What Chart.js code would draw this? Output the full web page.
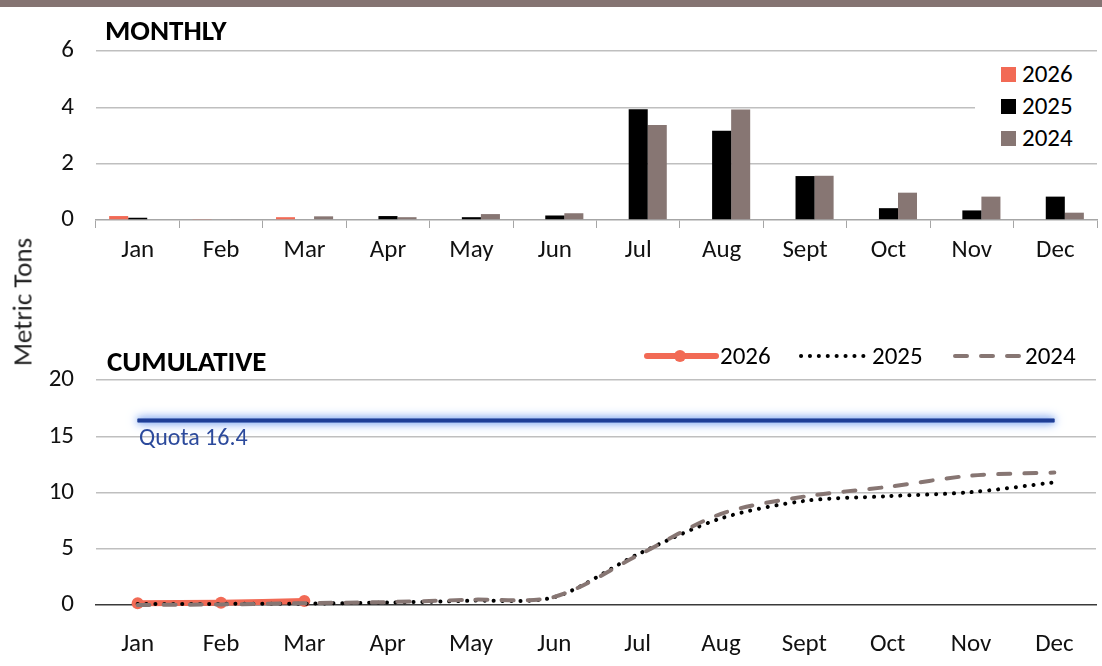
<!DOCTYPE html>
<html>
<head>
<meta charset="utf-8">
<script src="https://cdn.jsdelivr.net/npm/chart.js@4.4.1/dist/chart.umd.min.js"></script>
<style>
  html, body { margin:0; padding:0; background:#fff; }
  body { width:1102px; height:666px; position:relative; overflow:hidden; font-family: Carlito, Lato, "Open Sans", sans-serif; color:#111; }
  #topbar { position:absolute; left:0; top:0; width:1102px; height:7px; background:#857472; }
  .wrap { position:absolute; left:0; width:1102px; }
  .title { position:absolute; font-weight:bold; font-size:29px; color:#000; line-height:1; }
  #ylabel { position:absolute; left:22px; top:302px; transform:translate(-50%,-50%) rotate(-90deg); font-size:27px; color:#222; white-space:nowrap; }
  #legTop { position:absolute; left:975px; top:56px; width:125px; height:100px; background:#fff; }
  .li { position:absolute; left:26px; font-size:25px; color:#000; line-height:1; }
  .sw { display:inline-block; width:15px; height:15px; margin-right:6px; vertical-align:0px; }
  #legBot { position:absolute; top:343px; left:640px; font-size:25px; color:#000; white-space:nowrap; line-height:1; }
  #legBot span, #legBot svg { position:absolute; top:0; }
  #quota { position:absolute; left:139px; top:425px; font-size:24px; color:#2c4a9c; line-height:1; }
</style>
</head>
<body>
<div id="topbar"></div>
<div class="wrap" style="top:0;height:280px;"><canvas id="c1" width="1102" height="280"></canvas></div>
<div class="wrap" style="top:330px;height:336px;"><canvas id="c2" width="1102" height="336"></canvas></div>
<div class="title" style="left:105px;top:16px;">MONTHLY</div>
<div class="title" style="left:107px;top:347px;">CUMULATIVE</div>
<div id="ylabel">Metric Tons</div>
<div id="legTop">
  <div class="li" style="top:5px;"><span class="sw" style="background:#f26a55"></span>2026</div>
  <div class="li" style="top:37px;"><span class="sw" style="background:#000"></span>2025</div>
  <div class="li" style="top:69px;"><span class="sw" style="background:#877673"></span>2024</div>
</div>
<div id="legBot">
  <svg style="left:0;top:0" width="80" height="26"><line x1="7" y1="13" x2="76" y2="13" stroke="#f26a55" stroke-width="6" stroke-linecap="round"/><circle cx="40" cy="13" r="6" fill="#f26a55"/></svg>
  <span style="left:80px;">2026</span>
  <svg style="left:158px;top:0" width="72" height="26"><line x1="3" y1="13" x2="70" y2="13" stroke="#000" stroke-width="4" stroke-linecap="round" stroke-dasharray="0.1 8.8"/></svg>
  <span style="left:232px;">2025</span>
  <svg style="left:312px;top:0" width="72" height="26"><line x1="3" y1="13" x2="70" y2="13" stroke="#877673" stroke-width="4" stroke-linecap="round" stroke-dasharray="12 14"/></svg>
  <span style="left:385px;">2024</span>
</div>
<div id="quota">Quota 16.4</div>
<script>
const months = ["Jan","Feb","Mar","Apr","May","Jun","Jul","Aug","Sept","Oct","Nov","Dec"];
const monthly2026 = [0.14, 0.02, 0.10, null, null, null, null, null, null, null, null, null];
const monthly2025 = [0.08, 0, 0, 0.14, 0.10, 0.16, 3.93, 3.17, 1.56, 0.42, 0.34, 0.83];
const monthly2024 = [0, 0.03, 0.13, 0.10, 0.21, 0.24, 3.37, 3.92, 1.57, 0.97, 0.83, 0.26];
const cum2026 = [0.15, 0.20, 0.35, null, null, null, null, null, null, null, null, null];
const cum2025 = [0.08, 0.10, 0.12, 0.22, 0.38, 0.70, 4.5, 7.7, 9.25, 9.67, 10.03, 10.9];
const cum2024 = [0.0, 0.05, 0.16, 0.26, 0.47, 0.72, 4.4, 8.1, 9.64, 10.5, 11.5, 11.77];
const quota = 16.4;
const monthlyTicks = [0, 2, 4, 6];
const cumTicks = [0, 5, 10, 15, 20];

const FONT = "Carlito, Lato, 'Open Sans', sans-serif";
const C26 = "#f26a55", C25 = "#000000", C24 = "#877673";

Chart.defaults.font.family = FONT;
Chart.defaults.color = "#111";

new Chart(document.getElementById("c1"), {
  type: "bar",
  data: {
    labels: months,
    datasets: [
      { label: "2026", data: monthly2026, backgroundColor: C26 },
      { label: "2025", data: monthly2025, backgroundColor: C25 },
      { label: "2024", data: monthly2024, backgroundColor: C24 }
    ]
  },
  options: {
    responsive: false, animation: false,
    layout: { padding: { top: 51, right: 5, left: 0, bottom: 0 } },
    datasets: { bar: { barPercentage: 1, categoryPercentage: 0.685 } },
    plugins: { legend: { display: false }, tooltip: { enabled: false } },
    scales: {
      x: {
        grid: { display: true, drawOnChartArea: false, drawTicks: true, tickLength: 8, color: "#a6a6a6", offset: true },
        border: { display: true, color: "#a6a6a6", width: 1.5 },
        ticks: { font: { size: 25 }, color: "#111", padding: 8 },
        afterFit: (a) => { a.height = 60; }
      },
      y: {
        min: 0, max: 6,
        afterBuildTicks: (a) => { a.ticks = monthlyTicks.map(v => ({ value: v })); },
        grid: { color: (ctx) => ctx.tick && ctx.tick.value === 0 ? "rgba(0,0,0,0)" : "#bfbfbf", lineWidth: 1.5, drawTicks: false },
        border: { display: false },
        ticks: { font: { size: 25 }, color: "#111", padding: 22 },
        afterFit: (a) => { a.width = 96; }
      }
    }
  }
});

const glowPlugin = {
  id: "glow",
  beforeDatasetDraw(chart, args) {
    const ds = chart.data.datasets[args.index];
    if (ds.glow) {
      const ctx = chart.ctx;
      ctx.save();
      ctx.shadowColor = "rgba(90,140,235,1)";
      ctx.shadowBlur = 12;
      args.meta.dataset.draw(ctx, chart.chartArea);
      ctx.shadowBlur = 7;
      args.meta.dataset.draw(ctx, chart.chartArea);
      ctx.restore();
    }
  }
};

new Chart(document.getElementById("c2"), {
  type: "line",
  data: {
    labels: months,
    datasets: [
      { label: "Quota", data: months.map(() => quota), borderColor: "#1f3e96", borderWidth: 3.5, pointRadius: 0, glow: true, order: 4 },
      { label: "2026", data: cum2026, borderColor: C26, backgroundColor: C26, borderWidth: 6, pointRadius: 6, pointBorderWidth: 0, tension: 0.3, order: 3, clip: false },
      { label: "2025", data: cum2025, borderColor: C25, borderWidth: 4, borderDash: [0.1, 8.8], borderCapStyle: "round", pointRadius: 0, tension: 0.3, order: 2, clip: false },
      { label: "2024", data: cum2024, borderColor: C24, borderWidth: 4, borderDash: [12, 14], borderCapStyle: "round", pointRadius: 0, tension: 0.3, order: 1, clip: false }
    ]
  },
  plugins: [glowPlugin],
  options: {
    responsive: false, animation: false,
    layout: { padding: { top: 50, right: 5, left: 0, bottom: 0 } },
    plugins: { legend: { display: false }, tooltip: { enabled: false } },
    scales: {
      x: {
        offset: true,
        grid: { display: false },
        border: { display: true, color: "#3a3a3a", width: 1.5 },
        ticks: { font: { size: 25 }, color: "#111", padding: 17 },
        afterFit: (a) => { a.height = 61; }
      },
      y: {
        min: 0, max: 20,
        afterBuildTicks: (a) => { a.ticks = cumTicks.map(v => ({ value: v })); },
        grid: { color: (ctx) => ctx.tick && ctx.tick.value === 0 ? "rgba(0,0,0,0)" : "#bfbfbf", lineWidth: 1.5, drawTicks: false },
        border: { display: false },
        ticks: { font: { size: 25 }, color: "#111", padding: 22 },
        afterFit: (a) => { a.width = 96; }
      }
    }
  }
});
</script>
</body>
</html>
